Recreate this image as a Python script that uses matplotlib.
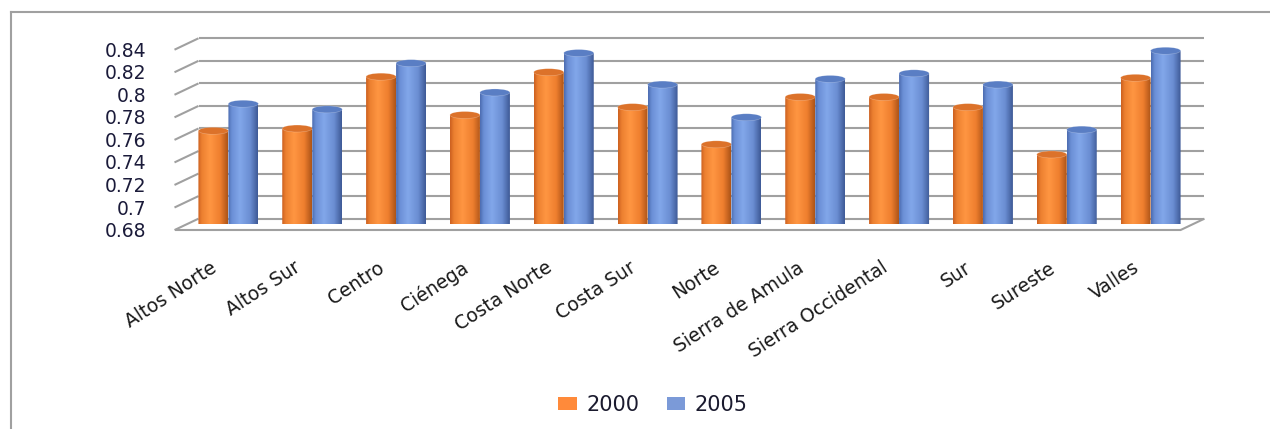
import matplotlib
matplotlib.use("Agg")
import matplotlib.pyplot as plt
import numpy as np
from matplotlib.colors import LinearSegmentedColormap
from matplotlib.lines import Line2D
from matplotlib.patches import Ellipse, Patch
from matplotlib.path import Path

regions = ["Altos Norte", "Altos Sur", "Centro", "Ciénega", "Costa Norte", "Costa Sur",
           "Norte", "Sierra de Amula", "Sierra Occidental", "Sur", "Sureste", "Valles"]
vals_2000 = [0.763, 0.765, 0.811, 0.777, 0.815, 0.784, 0.751, 0.793, 0.793, 0.784, 0.742, 0.810]
vals_2005 = [0.787, 0.782, 0.823, 0.797, 0.832, 0.804, 0.775, 0.809, 0.814, 0.804, 0.764, 0.834]
series_labels = ["2000", "2005"]
yticks = [0.68, 0.70, 0.72, 0.74, 0.76, 0.78, 0.80, 0.82, 0.84]
ytick_labels = ["0.68", "0.7", "0.72", "0.74", "0.76", "0.78", "0.8", "0.82", "0.84"]

W, H = 1270, 429
fig = plt.figure(figsize=(W / 100, H / 100), dpi=100)
fig.patch.set_facecolor("white")

# bar plane sits halfway between the floor's front edge and the back wall
left_px, right_px = 186.5, 1192.5
base_px, top_px = 224.35, 44.0
ax = fig.add_axes([left_px / W, 1 - base_px / H, (right_px - left_px) / W, (base_px - top_px) / H])
ax.set_xlim(0, len(regions))
ax.set_ylim(0.68, 0.84)
ax.axis("off")

px_x = len(regions) / (right_px - left_px)   # data units per pixel
px_y = 0.16 / (base_px - top_px)
ddx, ddy = 12 * px_x, 5.7 * px_y             # depth offset front/back

grid_kw = dict(color="#a0a0a0", lw=1.5, clip_on=False, zorder=1, solid_capstyle="butt")
n = len(regions)
for v in yticks:
    # back wall line and left wall diagonal
    ax.plot([ddx, n + ddx], [v + ddy, v + ddy], **grid_kw)
    ax.plot([-ddx, ddx], [v - ddy, v + ddy], **grid_kw)
# floor front edge and right edge
ax.plot([-ddx, n - ddx], [0.68 - ddy, 0.68 - ddy], **grid_kw)
ax.plot([n - ddx, n + ddx], [0.68 - ddy, 0.68 + ddy], **grid_kw)

for v, lab in zip(yticks, ytick_labels):
    ax.text(-ddx - 28 * px_x, v - ddy - 1.5 * px_y, lab, ha="right", va="center",
            fontsize=13.5, color="#1b1b3a", clip_on=False)

orange_cm = LinearSegmentedColormap.from_list(
    "o", [(0, "#cc6020"), (0.12, "#ec8030"), (0.4, "#ff9642"), (0.75, "#ee7e2e"), (1, "#ad5418")])
blue_cm = LinearSegmentedColormap.from_list(
    "b", [(0, "#4c6cb0"), (0.12, "#6b8fd6"), (0.4, "#82a7ea"), (0.75, "#6a8dd2"), (1, "#3e5a96")])
cap_colors = ["#dc722a", "#5a7ec4"]

bar_w = 30 * px_x
cap_h = 7 * px_y
grad = np.linspace(0, 1, 64)[None, :]


def cylinder(x0, top, cmap, cap_color, z):
    x1 = x0 + bar_w
    xc = x0 + bar_w / 2
    base = 0.68
    th = np.linspace(np.pi, 2 * np.pi, 40)
    pts = [(x0, top)] + list(zip(xc + bar_w / 2 * np.cos(th), base + cap_h / 2 * np.sin(th))) + [(x1, top), (x0, top)]
    clip = Path(pts, closed=True)
    im = ax.imshow(grad, cmap=cmap, extent=(x0, x1, base - cap_h, top), aspect="auto",
                   interpolation="bicubic", zorder=z)
    im.set_clip_path(clip, ax.transData)
    im.set_clip_box(None)
    ax.add_patch(Ellipse((xc, top), bar_w, cap_h, facecolor=cap_color,
                         edgecolor="#ffffff55", lw=0.4, zorder=z + 0.1, clip_on=False))


for i in range(n):
    c = i + 0.5
    cylinder(c - bar_w, vals_2000[i], orange_cm, cap_colors[0], 2 + i * 0.01)
    cylinder(c, vals_2005[i], blue_cm, cap_colors[1], 3 + i * 0.01)

ax.set_xlim(0, n)
ax.set_ylim(0.68, 0.84)

label_y = 0.68 - (258 - base_px) * px_y
for i, name in enumerate(regions):
    ax.text(i + 0.5 - 8 * px_x, label_y, name, rotation=33, ha="right", va="top",
            fontsize=13.5, color="#1a1a1a", clip_on=False)

handles = [Patch(facecolor="#ff8a3a", edgecolor="none"), Patch(facecolor="#7b9ad8", edgecolor="none")]
fig.legend(handles, series_labels, loc="center", bbox_to_anchor=(653 / W, 1 - 405 / H), ncol=2,
           frameon=False, fontsize=15, handlelength=0.9, handleheight=0.6, handletextpad=0.45,
           columnspacing=1.3, labelcolor="#1a1a2e")

# outer frame (left and top edges)
frame_kw = dict(color="#a0a0a0", lw=1.5, transform=fig.transFigure)
fig.add_artist(Line2D([10.5 / W, 10.5 / W], [0, 1 - 12 / H], **frame_kw))
fig.add_artist(Line2D([10.5 / W, 1], [1 - 12 / H, 1 - 12 / H], **frame_kw))

fig.savefig("out.png", dpi=100, facecolor="white")
